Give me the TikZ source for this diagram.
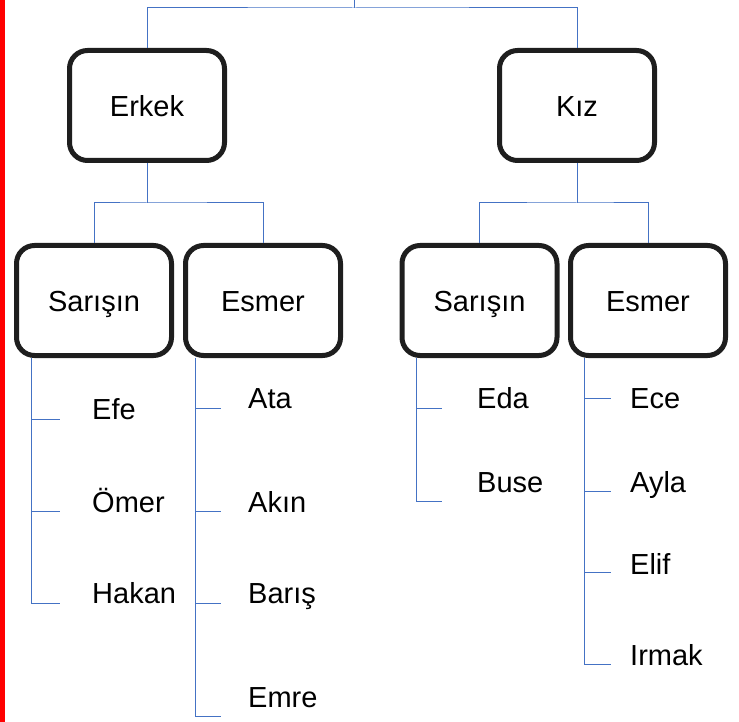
\documentclass[tikz,border=0pt]{standalone}
\usepackage{fontspec}
\setmainfont{Liberation Sans}
\usetikzlibrary{positioning,calc}

\definecolor{hatmavi}{RGB}{68,114,196}
\definecolor{kenar}{RGB}{30,30,30}

\tikzset{
  kutu/.style={draw=kenar,line width=5pt,rounded corners=18pt,fill=white,
    minimum width=155pt,minimum height=110pt,inner sep=0pt,
    text height=22pt,text depth=0pt,
    font=\fontsize{29}{34}\selectfont},
  isim/.style={anchor=base west,inner sep=0pt,font=\fontsize{29}{34}\selectfont},
  hat/.style={draw=hatmavi,line width=1pt}
}

\begin{document}
\begin{tikzpicture}[x=1pt,y=-1pt]
\useasboundingbox (0,0) rectangle (739,722);
\fill[red] (0,0) rectangle (5,722);

% Boxes of the first level
\node[kutu] (erkek) at (147,105.5) {Erkek};
\node[kutu] (kiz) at (577,105.5) {Kız};

% Boxes of the second level
\node[kutu] (sarE) at (94,300.5) {Sarışın};
\node[kutu] (esmE) at (263,300.5) {Esmer};
\node[kutu] (sarK) at (479.5,300.5) {Sarışın};
\node[kutu] (esmK) at (648,300.5) {Esmer};

% Top connectors
\coordinate (kok) at (354,0);
\draw[hat] (kok) -- ++(0,8) coordinate (kokAlt);
\draw[hat] (erkek.north) |- (kokAlt) -| (kiz.north);

\draw[hat] (erkek.south) -- ++(0,40) coordinate (erkekAlt);
\draw[hat] (sarE.north) |- (erkekAlt) -| (esmE.north);
\draw[hat] (kiz.south) -- ++(0,40) coordinate (kizAlt);
\draw[hat] (sarK.north) |- (kizAlt) -| (esmK.north);

% Names under Erkek / Sarisin
\node[isim] (efe) at (92,419) {Efe};
\node[isim] (omer) at (92,512) {Ömer};
\node[isim] (hakan) at (92,603) {Hakan};
\coordinate (efeT) at (60,419);
\coordinate (omerT) at (60,511);
\coordinate (hakanT) at (60,603);
\coordinate (sarEk) at (sarE.south -| 31,0);
\draw[hat] (sarEk) |- (hakanT);
\foreach \t in {efeT,omerT} \draw[hat] (sarEk |- \t) -- (\t);

% Names under Erkek / Esmer
\node[isim] (ata) at (248,408) {Ata};
\node[isim] (akin) at (248,512) {Akın};
\node[isim] (baris) at (248,603) {Barış};
\node[isim] (emre) at (248,707) {Emre};
\coordinate (ataT) at (221,408);
\coordinate (akinT) at (221,511);
\coordinate (barisT) at (221,603);
\coordinate (emreT) at (221,716);
\coordinate (esmEk) at (esmE.south -| 195,0);
\draw[hat] (esmEk) |- (emreT);
\foreach \t in {ataT,akinT,barisT} \draw[hat] (esmEk |- \t) -- (\t);

% Names under Kiz / Sarisin
\node[isim] (eda) at (477,408) {Eda};
\node[isim] (buse) at (477,492) {Buse};
\coordinate (edaT) at (442,408);
\coordinate (buseT) at (442,501);
\coordinate (sarKk) at (sarK.south -| 416,0);
\draw[hat] (sarKk) |- (buseT);
\draw[hat] (sarKk |- edaT) -- (edaT);

% Names under Kiz / Esmer
\node[isim] (ece) at (630,408) {Ece};
\node[isim] (ayla) at (630,492) {Ayla};
\node[isim] (elif) at (630,574) {Elif};
\node[isim] (irmak) at (630,665) {Irmak};
\coordinate (eceT) at (611,398);
\coordinate (aylaT) at (611,491);
\coordinate (elifT) at (611,572);
\coordinate (irmakT) at (611,664);
\coordinate (esmKk) at (esmK.south -| 584,0);
\draw[hat] (esmKk) |- (irmakT);
\foreach \t in {eceT,aylaT,elifT} \draw[hat] (esmKk |- \t) -- (\t);

\end{tikzpicture}
\end{document}
